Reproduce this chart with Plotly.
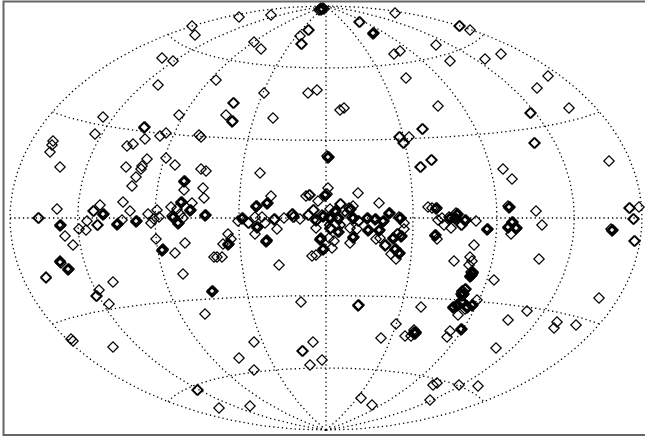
import numpy as np
import plotly.graph_objects as go

# Source positions on the stretched Hammer plane (horizontal / vertical offset from map centre)
north_x = [-134,-131,-164,-153,-168,-223,-147,-231,-182,-181,-182,-181,-166,-160,-127,-125,-273,-110,-193,-199,-274,-87,-55,
           -6,-4,-7,-3,-5,-2,-5,69,33,34,47,48,47,-18,-17,-26,-25,-24,-72,-65,68,74,80,-62,-18,-9,14,18,-53,-93,-92,-100,-94,-93,-94,
           96,97,73,74,83,77,78,133,134,144,110,124,159,175,222,211,243,204,205,112,208,209]
north_y = [192,183,160,157,133,101,103,84,91,91,90,79,82,85,83,81,77,138,74,72,73,201,203,
           209,209,208,210,208,209,210,205,196,196,185,185,184,188,188,182,174,174,176,169,164,167,140,125,125,128,108,110,100,115,115,103,97,97,96,
           89,89,81,81,81,75,75,192,192,188,173,157,159,164,142,130,110,105,105,112,75,75]

west_x = [-276,-266,-179,-184,-185,-200,-190,-194,-160,-151,-125,-120,-142,-141,-142,-142,-123,-122,-203,-226,-233,-232,-223,-222,-223,
          -196,-269,-288,-287,-266,-265,-266,-239,-247,-240,-229,-228,-209,-208,-209,-204,-190,-189,-190,-178,-175,-169,-172,-167,-155,
          -145,-144,-145,-134,-136,-135,-136,-149,-153,-152,-153,-154,-146,-143,-148,-147,-148,-121,-120,-121,-261,-253,-170,
          -164,-163,-164,-163,-151,-141,-266,-265,-266,-258,-257,-258,-280,-280,-143,-213,-227,-112,-114,-113,-114]
west_y = [66,51,59,52,49,51,41,32,60,53,49,47,37,37,36,28,30,20,16,13,7,7,4,4,3,
          7,9,0,0,-7,-7,-8,-3,-11,-12,-7,-7,-6,-6,-7,-2,-3,-3,-4,4,-5,8,-1,1,11,
          16,16,15,15,8,8,7,9,1,1,0,2,4,0,-5,-5,-6,3,3,2,-18,-27,-21,
          -32,-32,-33,-31,-35,-25,-44,-45,-43,-51,-51,-52,-59,-60,-56,-64,-72,-39,-73,-73,-74]

centre_x = [2,3,2,1,-66,94,95,105,106,102,32,53,-55,-59,-58,-59,-70,-69,-70,-84,-83,-84,-88,-78,-77,-71,-64,-69,-68,-69,-71,-61,
            -52,-51,-52,-42,-49,-60,-59,-60,-59,-34,-33,-34,-33,-32,-26,-18,-17,-13,-12,-17,-16,-20,-8,-1,0,-1,1,2,-10,-9,-10,
            -3,-2,-3,-4,4,4,5,4,3,12,13,12,14,15,9,10,9,24,25,24,23,27,27,28,27,26,-10,4,5,4,12,13,32,33,24,31,27,28,27,24,
            -6,-5,-6,-5,8,3,-3,-2,-3,6,-14,-10,-47,41,42,41,42,43,42,49,50,49,57,58,57,63,64,63,53,54,53,50,54,59,60,59,
            74,75,74,73,78,78,67,68,67,71,72,75,76,75,69,70,69,73,74,73,65,70,-98,-103,-98,-97,-98,-95,-109,-104]
centre_y = [61,61,60,62,45,51,51,58,58,11,25,15,22,15,15,14,12,12,11,0,0,-1,-3,-5,-5,1,1,-9,-9,-10,-16,-5,
            -1,-1,-2,0,-11,-23,-23,-24,-22,4,4,3,1,1,-1,3,3,8,8,23,23,22,17,23,23,22,24,30,-2,-2,-3,
            2,2,1,3,9,0,0,-1,1,0,0,-1,14,14,7,7,6,9,9,8,10,12,0,0,-1,1,-10,-10,-10,-11,-14,-14,-3,-3,-10,-11,-19,-19,-20,-25,
            -21,-21,-22,-20,-23,-20,-31,-31,-32,-30,-38,-37,-47,0,0,-1,-12,-12,-13,-1,-1,-2,-3,-3,-4,5,5,4,-12,-12,-13,-21,-20,-27,-27,-28,
            0,0,-1,1,-5,-11,-20,-20,-21,-16,-16,-18,-18,-19,-31,-31,-32,-35,-35,-36,-36,-41,-16,-26,-26,-26,-27,-21,-39,-39]

east_x = [177,186,283,183,184,183,182,210,216,186,187,186,182,183,182,190,191,190,185,303,304,313,307,308,286,287,286,285,308,309,213,
          110,111,110,106,112,116,118,125,124,125,124,123,131,132,131,130,129,130,129,135,136,139,140,139,150,161,162,161,
          109,110,109,111,148,128,144,146,143,146,147,146,145,147,146,144,145,144,168,139,140,139,136,137,136]
east_y = [49,39,57,11,11,10,12,7,-7,-4,-4,-5,-9,-9,-10,-10,-10,-11,-16,10,10,11,-1,-1,-12,-12,-13,-11,-23,-23,-41,
          10,10,9,10,-2,0,-7,-10,0,0,-1,1,4,4,3,5,0,0,-1,-7,-7,-2,-2,-3,-3,-11,-11,-12,
          -17,-17,-18,-21,-27,-43,-39,-43,-47,-55,-55,-56,-54,-54,-57,-58,-58,-59,-62,-71,-71,-72,-73,-73,-74]

south_x = [-230,-229,-217,-121,-255,-253,-213,-129,-128,-25,32,33,32,95,70,55,79,88,85,89,90,89,88,90,88,-72,-13,-24,-23,-87,-4,-16,-72,
           35,46,-76,-107,104,107,111,133,152,273,201,151,182,231,228,250,170,132,124,121,135,136,135,
           127,128,127,131,132,131,136,137,136,135,141,142,141,146,147,146,136,137,136,135,137,138,139]
south_y = [-78,-78,-86,-96,-121,-123,-129,-172,-172,-84,-87,-87,-88,-89,-106,-120,-118,-112,-118,-115,-115,-116,-114,-114,-116,-124,-124,-133,-133,-140,-142,-147,-152,
           -180,-187,-188,-190,-182,-167,-165,-167,-168,-80,-93,-82,-102,-104,-110,-107,-130,-97,-113,-119,-111,-111,-112,
           -89,-89,-90,-87,-87,-88,-84,-84,-85,-83,-89,-89,-90,-87,-87,-88,-77,-77,-78,-76,-76,-76,-91]

# Spots where many sources pile up and the outlines merge into a blob
blob_x = [2,-1,-60,-70,-59,-84,-69,-11,-3,4,12,9,24,27,19,16,2,41,49,57,63,42,53,74,67,75,69,73,-6,-3,12,27,-98,
          -153,-148,-145,-136,-142,-190,-209,-223,-266,-266,-258,-164,-121,-114,
          183,186,182,190,286,124,131,129,139,161,110,109,146,144,135,
          127,131,136,141,146,136,89,-5,47]
blob_y = [61,23,-23,12,15,0,-9,-2,2,0,0,7,9,0,5,-7,-7,0,-1,-3,5,-12,-12,0,-20,-18,-31,-35,-21,-31,-14,-19,-26,
          1,-5,16,8,37,-3,-6,4,-7,-44,-51,-32,3,-73,
          11,-4,-9,-10,-12,0,4,0,-2,-11,10,-17,-55,-58,-111,
          -89,-87,-84,-89,-87,-77,-115,209,185]

meridians = [-180, -135, -90, -45, 0, 45, 90, 135, 180]
parallels = [-60, -30, 0, 30, 60]
half_w, half_h = 316, 212


def hammer(lon, lat):
    lam, phi = np.radians(lon), np.radians(lat)
    d = np.sqrt(1 + np.cos(phi) * np.cos(lam / 2))
    return half_w * np.cos(phi) * np.sin(lam / 2) / d, half_h * np.sin(phi) / d


fig = go.Figure()
grid = dict(mode="lines", hoverinfo="skip", showlegend=False,
            line=dict(color="#000000", width=1.3, dash="1.3px,3px"))
for m in meridians:
    gx, gy = hammer(np.full(181, float(m)), np.linspace(-90, 90, 181))
    fig.add_trace(go.Scatter(x=gx, y=gy, **grid))
for p in parallels:
    gx, gy = hammer(np.linspace(-180, 180, 361), np.full(361, float(p)))
    fig.add_trace(go.Scatter(x=gx, y=gy, **grid))

for xs, ys in [(north_x, north_y), (west_x, west_y), (centre_x, centre_y), (east_x, east_y), (south_x, south_y)]:
    fig.add_trace(go.Scatter(x=xs, y=ys, mode="markers", showlegend=False,
                             marker=dict(symbol="diamond-open", size=8, color="#000000",
                                         line=dict(width=1.2, color="#000000"))))
fig.add_trace(go.Scatter(x=blob_x, y=blob_y, mode="markers", showlegend=False,
                         marker=dict(symbol="diamond-open", size=5, color="#000000",
                                     line=dict(width=1.6, color="#000000"))))

fig.update_layout(
    width=645, height=439, margin=dict(l=0, r=0, t=0, b=0),
    paper_bgcolor="white", plot_bgcolor="white",
    xaxis=dict(range=[-326, 319], visible=False, fixedrange=True),
    yaxis=dict(range=[-221, 218], visible=False, fixedrange=True),
    shapes=[dict(type="rect", xref="paper", yref="paper",
                 x0=3.5 / 645, x1=1.01, y0=1 - 435 / 439, y1=1 - 1.5 / 439,
                 line=dict(color="#666666", width=2))],
)
fig.write_html("out.html", post_script="document.body.style.margin='0';",
               config={"displayModeBar": False})
